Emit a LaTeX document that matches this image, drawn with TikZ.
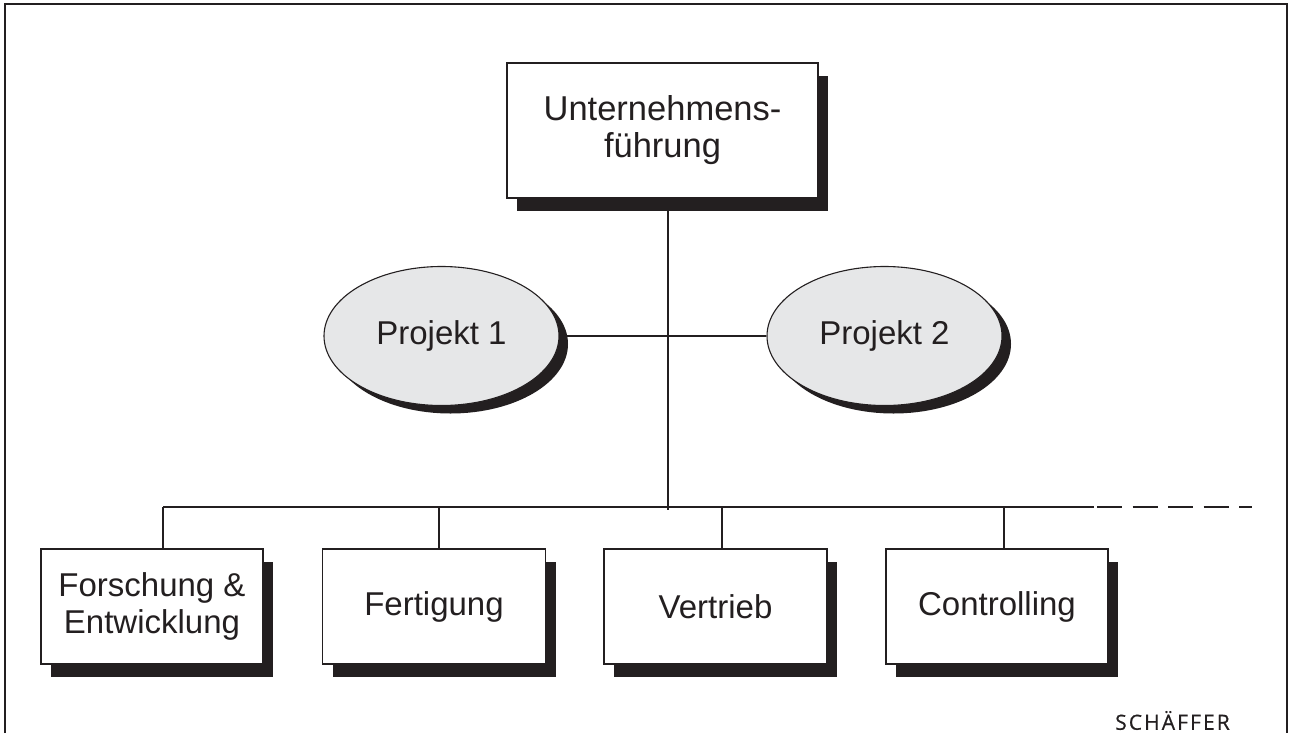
\documentclass[tikz,border=0pt]{standalone}
\usepackage{fontspec}
\setmainfont{Liberation Sans}
\newfontfamily\logofont[LetterSpace=10,FakeBold=0.6]{Open Sans}
\usetikzlibrary{shapes.geometric,shadows}
\definecolor{ink}{HTML}{231F20}
\definecolor{projfill}{HTML}{E6E7E8}
\begin{document}
\begin{tikzpicture}[x=1pt,y=-1pt,
  every node/.style={text=ink},
  unit/.style={draw=ink, line width=1.3pt, fill=white, rectangle, inner sep=0pt,
    minimum width=223pt, minimum height=115pt, align=center,
    font=\fontsize{33}{37}\selectfont,
    drop shadow={shadow xshift=10pt, shadow yshift=-13pt, fill=ink, opacity=1}},
  project/.style={draw=ink, line width=1.1pt, fill=projfill, ellipse, inner sep=0pt,
    minimum width=235pt, minimum height=139pt,
    font=\fontsize{33}{37}\selectfont,
    drop shadow={shadow xshift=9pt, shadow yshift=-8pt, fill=ink, opacity=1}},
  link/.style={draw=ink, line width=1.3pt},
  frame/.style={draw=ink, line width=2.4pt}]
\useasboundingbox (0,0) rectangle (1289,733);

% outer frame, open at the bottom
\draw[frame] (5,733) -- (5,4) -- (1287,4) -- (1287,733);

% junction points of the connector tree
\coordinate (spineTop) at (668,198);
\coordinate (spineEnd) at (668,510);
\coordinate (busL) at (163,507);
\coordinate (busR) at (1094,507);
\coordinate (dashA) at (1097,507);
\coordinate (dashB) at (1252,507);
\coordinate (dFE) at (163,507);
\coordinate (dFert) at (439,507);
\coordinate (dVert) at (722,507);
\coordinate (dCtrl) at (1004,507);

% connectors (drawn first, nodes cover their ends)
\draw[link] (spineTop) -- (spineEnd);
\draw[link] (busL) -- (busR);
\draw[link, dash pattern=on 25pt off 10.5pt] (dashA) -- (dashB);

% management
\node[unit, minimum width=311pt, minimum height=135pt,
  font=\fontsize{34.5}{37}\selectfont] (lead) at (662.5,130.5)
  {Unternehmens-\\führung};

% projects
\node[project] (p1) at (441.5,336) {Projekt 1};
\node[project] (p2) at (884.5,336) {Projekt 2};
\draw[link] (p1.east) -- (p2.west);
\draw[link] (lead.south -| spineTop) -- (p1.east -| spineTop);

% departments
\node[unit, minimum width=222pt] (fe) at (152,606.5) {Forschung \&\\Entwicklung};
\node[unit] (fert) at (434,606.5) {Fertigung};
\node[unit] (vert) at (715.5,606.5) {Vertrieb};
\node[unit, minimum width=222pt] (ctrl) at (997,606.5) {Controlling};

\draw[link] (dFE) -- (dFE |- fe.north);
\draw[link] (dFert) -- (dFert |- fert.north);
\draw[link] (dVert) -- (dVert |- vert.north);
\draw[link] (dCtrl) -- (dCtrl |- ctrl.north);

% publisher mark
\node[font=\logofont\fontsize{21}{23}\selectfont, inner sep=0pt] (logo) at (1172.5,720.5) {SCHÄFFER};
\end{tikzpicture}
\end{document}
